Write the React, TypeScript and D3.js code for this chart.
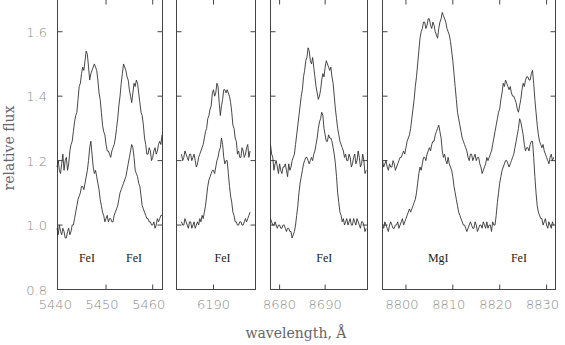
import React from "react";
import * as d3 from "d3";

const STEP = 0.25;

const fe5446Start = 5439.5;
const fe5446Upper = [
  1.18, 1.20, 1.17, 1.16, 1.19, 1.22, 1.17, 1.20, 1.21, 1.17,
  1.19, 1.23, 1.25, 1.26, 1.29, 1.32, 1.34, 1.35, 1.39, 1.43,
  1.44, 1.47, 1.49, 1.48, 1.51, 1.54, 1.53, 1.49, 1.45, 1.47,
  1.48, 1.49, 1.50, 1.49, 1.48, 1.45, 1.41, 1.39, 1.35, 1.31,
  1.29, 1.28, 1.25, 1.23, 1.23, 1.22, 1.21, 1.23, 1.24, 1.25,
  1.27, 1.30, 1.33, 1.37, 1.40, 1.44, 1.47, 1.50, 1.49, 1.48,
  1.46, 1.45, 1.42, 1.40, 1.38, 1.41, 1.44, 1.43, 1.45, 1.44,
  1.41, 1.38, 1.35, 1.34, 1.31, 1.27, 1.25, 1.22, 1.22, 1.24,
  1.23, 1.20, 1.21, 1.23, 1.24, 1.22, 1.23, 1.25, 1.26, 1.25,
  1.28,
];
const fe5446Lower = [
  0.99, 0.97, 1.00, 0.98, 0.97, 0.99, 0.98, 0.96, 0.96, 0.98,
  0.99, 0.97, 0.98, 1.00, 1.00, 1.02, 1.04, 1.06, 1.08, 1.09,
  1.10, 1.12, 1.12, 1.11, 1.13, 1.15, 1.17, 1.20, 1.24, 1.26,
  1.22, 1.18, 1.16, 1.17, 1.15, 1.13, 1.11, 1.08, 1.06, 1.04,
  1.03, 1.01, 1.02, 1.03, 1.01, 1.02, 1.02, 1.01, 1.01, 1.03,
  1.04, 1.05, 1.06, 1.08, 1.10, 1.11, 1.12, 1.13, 1.14, 1.15,
  1.17, 1.19, 1.21, 1.23, 1.25, 1.24, 1.21, 1.17, 1.16, 1.15,
  1.13, 1.12, 1.09, 1.06, 1.05, 1.04, 1.03, 1.02, 1.02, 1.01,
  1.01, 1.00, 1.00, 1.01, 0.99, 1.00, 1.02, 1.01, 1.02, 1.03,
  1.03,
];

const fe6192Start = 6183.0;
const fe6192Upper = [
  1.22, 1.20, 1.21, 1.23, 1.22, 1.21, 1.20, 1.22, 1.22, 1.20,
  1.21, 1.22, 1.20, 1.18, 1.19, 1.21, 1.22, 1.23, 1.24, 1.25,
  1.27, 1.29, 1.30, 1.33, 1.34, 1.36, 1.37, 1.41, 1.42, 1.40,
  1.41, 1.44, 1.43, 1.38, 1.34, 1.37, 1.39, 1.42, 1.42, 1.41,
  1.42, 1.41, 1.40, 1.38, 1.35, 1.31, 1.30, 1.27, 1.26, 1.22,
  1.23, 1.21, 1.21, 1.24, 1.23, 1.21, 1.22, 1.24, 1.25, 1.21,
  1.23,
];
const fe6192Lower = [
  1.01, 1.00, 1.00, 1.02, 1.01, 1.00, 0.99, 1.01, 1.01, 0.99,
  1.00, 1.01, 0.99, 1.00, 1.01, 1.00, 1.02, 1.01, 1.03, 1.02,
  1.04, 1.06, 1.09, 1.12, 1.14, 1.15, 1.16, 1.17, 1.17, 1.16,
  1.18, 1.20, 1.21, 1.23, 1.24, 1.27, 1.25, 1.21, 1.19, 1.20,
  1.20, 1.16, 1.12, 1.09, 1.07, 1.04, 1.03, 1.01, 1.01, 1.00,
  1.00, 1.01, 1.01, 1.00, 1.00, 1.01, 1.02, 1.01, 1.02, 1.03,
  1.04,
];

const fe8689Start = 8678.0;
const fe8689Upper = [
  1.25, 1.22, 1.21, 1.17, 1.19, 1.20, 1.18, 1.16, 1.19, 1.17,
  1.16, 1.18, 1.18, 1.19, 1.17, 1.15, 1.19, 1.17, 1.18, 1.20,
  1.21, 1.22, 1.25, 1.28, 1.31, 1.34, 1.37, 1.40, 1.42, 1.46,
  1.48, 1.51, 1.52, 1.55, 1.54, 1.51, 1.50, 1.52, 1.49, 1.46,
  1.43, 1.41, 1.39, 1.40, 1.42, 1.45, 1.47, 1.46, 1.49, 1.51,
  1.50, 1.49, 1.48, 1.49, 1.46, 1.44, 1.40, 1.36, 1.33, 1.30,
  1.28, 1.26, 1.25, 1.24, 1.23, 1.21, 1.22, 1.20, 1.20, 1.22,
  1.21, 1.18, 1.19, 1.21, 1.22, 1.19, 1.20, 1.23, 1.21, 1.18,
  1.19, 1.22, 1.20, 1.16, 1.17,
];
const fe8689Lower = [
  1.02, 1.01, 1.00, 1.00, 1.01, 1.00, 0.99, 1.00, 1.00, 0.99,
  0.99, 1.00, 1.00, 0.99, 0.98, 0.99, 0.99, 0.98, 0.98, 0.96,
  0.97, 0.98, 1.00, 1.03, 1.06, 1.10, 1.13, 1.15, 1.17, 1.19,
  1.20, 1.21, 1.21, 1.20, 1.19, 1.20, 1.21, 1.20, 1.22, 1.23,
  1.25, 1.27, 1.30, 1.32, 1.33, 1.35, 1.34, 1.30, 1.28, 1.26,
  1.26, 1.28, 1.27, 1.27, 1.26, 1.24, 1.22, 1.19, 1.15, 1.10,
  1.07, 1.04, 1.03, 1.01, 1.02, 1.00, 1.01, 1.02, 1.00, 1.01,
  1.02, 1.00, 1.00, 1.02, 1.01, 1.00, 1.02, 1.01, 1.00, 0.99,
  1.01, 1.01, 1.00, 0.98, 0.99,
];

const mg8807Start = 8795.0;
const mg8807Upper = [
  1.20, 1.18, 1.19, 1.20, 1.18, 1.17, 1.19, 1.18, 1.18, 1.20,
  1.19, 1.17, 1.18, 1.19, 1.20, 1.21, 1.21, 1.22, 1.23, 1.22,
  1.24, 1.26, 1.27, 1.28, 1.30, 1.33, 1.36, 1.39, 1.43, 1.46,
  1.50, 1.54, 1.58, 1.60, 1.61, 1.63, 1.63, 1.61, 1.62, 1.64,
  1.64, 1.62, 1.61, 1.63, 1.62, 1.60, 1.59, 1.58, 1.61, 1.63,
  1.64, 1.66, 1.65, 1.64, 1.63, 1.61, 1.60, 1.59, 1.57, 1.54,
  1.51, 1.47, 1.43, 1.39, 1.35, 1.33, 1.31, 1.29, 1.27, 1.26,
  1.25, 1.24, 1.23, 1.21, 1.20, 1.22, 1.22, 1.20, 1.21, 1.22,
  1.20, 1.21, 1.21, 1.19, 1.18, 1.16, 1.17, 1.18, 1.19, 1.21,
  1.20, 1.21, 1.22, 1.23, 1.25, 1.27, 1.29, 1.31, 1.33, 1.35,
  1.36, 1.39, 1.41, 1.44, 1.43, 1.45, 1.44, 1.43, 1.42, 1.43,
  1.41, 1.40, 1.40, 1.39, 1.38, 1.36, 1.35, 1.37, 1.39, 1.42,
  1.44, 1.43, 1.45, 1.46, 1.46, 1.45, 1.45, 1.47, 1.48, 1.44,
  1.39, 1.35, 1.31, 1.28, 1.26, 1.25, 1.24, 1.25, 1.23, 1.22,
  1.21, 1.20, 1.19, 1.21, 1.22, 1.20, 1.21,
];
const mg8807Lower = [
  1.00, 0.99, 1.01, 1.00, 0.99, 0.98, 1.00, 1.01, 1.00, 0.99,
  0.99, 1.00, 1.00, 1.01, 0.99, 1.00, 1.01, 1.02, 1.00, 1.01,
  1.02, 1.03, 1.04, 1.05, 1.04, 1.05, 1.06, 1.07, 1.08, 1.10,
  1.13, 1.16, 1.18, 1.17, 1.19, 1.21, 1.21, 1.20, 1.22, 1.23,
  1.24, 1.23, 1.25, 1.26, 1.26, 1.28, 1.29, 1.30, 1.31, 1.29,
  1.27, 1.23, 1.21, 1.22, 1.20, 1.19, 1.21, 1.19, 1.18, 1.17,
  1.15, 1.12, 1.10, 1.08, 1.06, 1.04, 1.03, 1.02, 1.01, 1.00,
  1.00, 0.99, 0.98, 0.99, 1.00, 1.01, 1.00, 0.99, 0.99, 1.01,
  1.00, 0.98, 0.99, 1.00, 1.00, 0.99, 1.01, 1.00, 0.99, 1.01,
  0.99, 1.00, 1.00, 0.98, 1.01, 1.00, 1.00, 1.03, 1.07, 1.10,
  1.13, 1.15, 1.17, 1.18, 1.19, 1.20, 1.20, 1.19, 1.18, 1.19,
  1.20, 1.21, 1.22, 1.24, 1.26, 1.28, 1.30, 1.33, 1.32, 1.30,
  1.28, 1.25, 1.23, 1.24, 1.24, 1.23, 1.25, 1.26, 1.26, 1.21,
  1.15, 1.10, 1.06, 1.04, 1.03, 1.02, 1.02, 1.00, 1.01, 1.02,
  1.00, 0.99, 1.01, 1.00, 0.99, 1.01, 1.00,
];

const fluxTicks = [0.8, 1.0, 1.2, 1.4, 1.6];
const fluxDomain = [0.8, 1.7];

const panels = [
  { domain: [5439.6, 5462.1], ticks: [5450, 5460], labels: [5440, 5450, 5460],
    start: fe5446Start, upper: fe5446Upper, lower: fe5446Lower,
    lines: [{ name: "FeI", at: 5445.9 }, { name: "FeI", at: 5456.0 }] },
  { domain: [6181.9, 6199.2], ticks: [6190], labels: [6190],
    start: fe6192Start, upper: fe6192Upper, lower: fe6192Lower,
    lines: [{ name: "FeI", at: 6192.0 }] },
  { domain: [8678.0, 8699.3], ticks: [8680, 8690], labels: [8680, 8690],
    start: fe8689Start, upper: fe8689Upper, lower: fe8689Lower,
    lines: [{ name: "FeI", at: 8689.8 }] },
  { domain: [8795.0, 8831.9], ticks: [8800, 8810, 8820, 8830], labels: [8800, 8810, 8820, 8830],
    start: mg8807Start, upper: mg8807Upper, lower: mg8807Lower,
    lines: [{ name: "MgI", at: 8806.9 }, { name: "FeI", at: 8824.1 }] },
];

// pixel extents of each box
const boxes = [
  { x0: 57.5, x1: 162.5, dx: -4 },
  { x0: 176.5, x1: 255.5, dx: 0 },
  { x0: 270.5, x1: 367.5, dx: 0 },
  { x0: 382.5, x1: 555.5, dx: -4 },
];

const W = 565;
const H = 345;
const yTop = -0.5;
const yBot = 289.5;
const TICK = 5;
const frame = "#444";
const ink = "#333";
const grey = "#8a8a8a";

export default function App() {
  const y = d3.scaleLinear().domain(fluxDomain).range([yBot, yTop]);

  return (
    <div style={{ position: "absolute", left: 0, top: 0 }}>
      <svg width={W} height={H} style={{ display: "block", background: "#fff" }}>
        {panels.map((p, i) => {
          const b = boxes[i];
          const x = d3.scaleLinear().domain(p.domain).range([b.x0, b.x1]);
          const line = d3.line<number>()
            .x((_, k) => x(p.start + k * STEP))
            .y(d => y(d));
          return (
            <g key={i}>
              <rect x={b.x0} y={yTop} width={b.x1 - b.x0} height={yBot - yTop}
                fill="none" stroke={frame} strokeWidth={1} />
              {p.ticks.map(t => (
                <g key={t} stroke={frame}>
                  <line x1={x(t)} x2={x(t)} y1={yBot} y2={yBot - TICK} />
                  <line x1={x(t)} x2={x(t)} y1={yTop} y2={yTop + TICK} />
                </g>
              ))}
              {fluxTicks.map(t => (
                <g key={t} stroke={frame}>
                  <line x1={b.x0} x2={b.x0 + TICK} y1={y(t)} y2={y(t)} />
                  <line x1={b.x1} x2={b.x1 - TICK} y1={y(t)} y2={y(t)} />
                </g>
              ))}
              {p.labels.map(t => (
                <text key={t} x={x(t) + b.dx} y={309} textAnchor="middle"
                  fontFamily="DejaVu Sans" fontSize={13} fontWeight={200} fill={grey}>
                  {t}
                </text>
              ))}
              <path d={line(p.upper) || ""} fill="none" stroke={ink} strokeWidth={0.9} />
              <path d={line(p.lower) || ""} fill="none" stroke={ink} strokeWidth={0.9} />
              {p.lines.map(l => (
                <text key={l.at} x={x(l.at)} y={262} textAnchor="middle"
                  fontFamily="Liberation Serif" fontSize={12} fill="#222">
                  {l.name}
                </text>
              ))}
            </g>
          );
        })}
        {fluxTicks.map(t => (
          <text key={t} x={47} y={y(t) + 5} textAnchor="end"
            fontFamily="DejaVu Sans" fontSize={13} fontWeight={200} fill={grey}>
            {t.toFixed(1)}
          </text>
        ))}
        <text transform={`translate(14,148) rotate(-90)`} textAnchor="middle"
          fontFamily="DejaVu Serif" fontSize={14} fill="#666">
          relative flux
        </text>
        <text x={296} y={338} textAnchor="middle"
          fontFamily="DejaVu Serif" fontSize={14} fill="#666">
          wavelength, Å
        </text>
      </svg>
    </div>
  );
}
